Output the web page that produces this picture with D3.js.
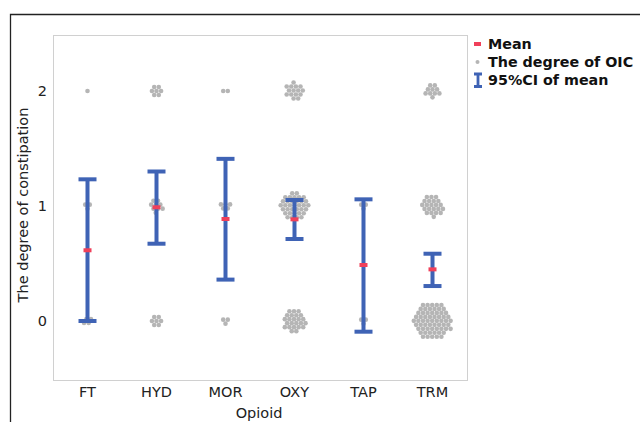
<!DOCTYPE html>
<html><head><meta charset="utf-8">
<script src="https://cdn.jsdelivr.net/npm/d3@7"></script>
<style>body{margin:0;background:#fff}svg{display:block}</style>
</head><body>
<svg id="c" width="640" height="422"></svg>
<script>
const categories = ["FT","HYD","MOR","OXY","TAP","TRM"];
const levels = [0, 1, 2];
const count0 = [4, 7, 3, 24, 3, 62];
const count1 = [3, 9, 5, 35, 3, 22];
const count2 = [1, 7, 2, 15, 0, 10];
const means  = [0.615, 0.989, 0.887, 0.884, 0.487, 0.449];
const ciLow  = [0.0, 0.672, 0.36, 0.713, -0.093, 0.304];
const ciHigh = [1.232, 1.30, 1.41, 1.052, 1.058, 0.585];
const yTicks = [0, 1, 2];

const svg = d3.select("#c");
const M = {l:53, r:467, t:35, b:380};
const x = d3.scaleBand().domain(categories).range([M.l, M.r]).padding(0);
const y = d3.scaleLinear().domain([-0.5, 2.5]).range([378.5, 33.5]);

// outer frame
svg.append("path").attr("d","M10.5,422 L10.5,14.5 L640,14.5")
  .attr("fill","none").attr("stroke","#222").attr("stroke-width",1.3);

// plot border
svg.append("rect").attr("x",M.l+0.5).attr("y",M.t+0.5)
  .attr("width",M.r-M.l).attr("height",M.b-M.t)
  .attr("fill","none").attr("stroke","#d0d0d0").attr("stroke-width",1);

// hex lattice offsets
const d = 4.6;
const lattice = [];
for (let j=-12;j<=12;j++) for (let i=-12;i<=12;i++){
  const px = i*d + ((Math.abs(j)%2)? d/2:0);
  const py = j*d*Math.sqrt(3)/2;
  let a = Math.atan2(py,px); if (a < -1e-9) a += 2*Math.PI;
  lattice.push({px, py, r: Math.round(Math.hypot(px,py)*100)/100, a: Math.round(a*1000)/1000});
}
lattice.sort((p,q)=> (p.r-q.r) || (p.a-q.a));

const counts = [count0, count1, count2];
const dots = [];
categories.forEach((c,ci)=>{
  levels.forEach((lv,li)=>{
    const n = counts[li][ci];
    if (!n) return;
    const pts = lattice.slice(0, n);
    const mx = d3.mean(pts, p=>p.px), my = d3.mean(pts, p=>p.py);
    pts.forEach(p=>{
      dots.push({cx: x(c)+x.bandwidth()/2 + p.px - mx, cy: y(lv) + p.py - my});
    });
  });
});
svg.append("g").selectAll("circle").data(dots).join("circle")
  .attr("cx",p=>p.cx).attr("cy",p=>p.cy).attr("r",2.3).attr("fill","#b5b5b5");

// error bars
const blue = "#3f63b5";
const eb = svg.append("g");
categories.forEach((c,i)=>{
  const cx = x(c)+x.bandwidth()/2;
  eb.append("line").attr("x1",cx).attr("x2",cx).attr("y1",y(ciLow[i])).attr("y2",y(ciHigh[i]))
    .attr("stroke",blue).attr("stroke-width",4);
  [ciLow[i], ciHigh[i]].forEach(v=>{
    eb.append("line").attr("x1",cx-9).attr("x2",cx+9).attr("y1",y(v)).attr("y2",y(v))
      .attr("stroke",blue).attr("stroke-width",4);
  });
  eb.append("rect").attr("x",cx-4).attr("y",y(means[i])-2).attr("width",8).attr("height",4)
    .attr("fill","#f0405a");
});

// axes text
const font = "DejaVu Sans, Verdana, sans-serif";
svg.append("g").selectAll("text").data(categories).join("text")
  .attr("x",c=>x(c)+x.bandwidth()/2).attr("y",397).attr("text-anchor","middle")
  .attr("font-family",font).attr("font-size",14.5).attr("fill","#222").text(c=>c);
svg.append("g").selectAll("text").data(yTicks).join("text")
  .attr("x",47).attr("y",v=>y(v)+5).attr("text-anchor","end")
  .attr("font-family",font).attr("font-size",14.5).attr("fill","#222").text(v=>v);
svg.append("text").attr("x",259).attr("y",418).attr("text-anchor","middle")
  .attr("font-family",font).attr("font-size",14.5).attr("fill","#222").text("Opioid");
svg.append("text").attr("transform","translate(28,205) rotate(-90)").attr("text-anchor","middle")
  .attr("font-family",font).attr("font-size",14.5).attr("fill","#222").text("The degree of constipation");

// legend
const lg = svg.append("g").attr("font-family",font).attr("font-size",14.3).attr("font-weight","bold").attr("fill","#111");
lg.append("rect").attr("x",474).attr("y",42).attr("width",7).attr("height",4).attr("fill","#f0405a");
lg.append("text").attr("x",488).attr("y",49).text("Mean");
lg.append("circle").attr("cx",477.5).attr("cy",62).attr("r",2).attr("fill","#b5b5b5");
lg.append("text").attr("x",488).attr("y",67).text("The degree of OIC");
lg.append("path").attr("d","M474,74 L482,74 M478,74 L478,86.5 M474,86.5 L482,86.5")
  .attr("stroke",blue).attr("stroke-width",2.8).attr("fill","none");
lg.append("text").attr("x",488).attr("y",85).text("95%CI of mean");
</script>
</body></html>
